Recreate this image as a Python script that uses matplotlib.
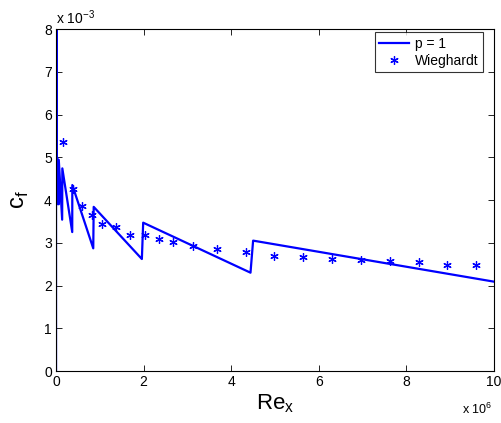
import matplotlib
matplotlib.use("Agg")
import matplotlib.pyplot as plt

plt.rcParams['font.family'] = ['Liberation Sans', 'DejaVu Sans']

# p = 1 line (Re_x in units of 1e6, cf in units of 1e-3)
re_line = [0.0, 0.0, 0.02, 0.025, 0.06, 0.063, 0.14, 0.144, 0.37, 0.372,
           0.85, 0.86, 1.96, 1.99, 4.44, 4.50, 10.0]
cf_line = [0.0, 50.0, 3.9, 5.0, 3.9, 4.94, 3.54, 4.74, 3.25, 4.35,
           2.87, 3.84, 2.62, 3.47, 2.30, 3.05, 2.09]

# Wieghardt data
re_w = [0.167, 0.38, 0.594, 0.83, 1.05, 1.37, 1.70, 2.03, 2.36, 2.68, 3.12,
        3.68, 4.33, 4.98, 5.65, 6.30, 6.96, 7.63, 8.28, 8.93, 9.60]
cf_w = [5.35, 4.26, 3.87, 3.65, 3.45, 3.38, 3.18, 3.18, 3.09, 3.02, 2.93,
        2.85, 2.79, 2.70, 2.67, 2.61, 2.60, 2.57, 2.54, 2.48, 2.48]

xticks = [0, 2, 4, 6, 8, 10]
yticks = [0, 1, 2, 3, 4, 5, 6, 7, 8]

fig = plt.figure(figsize=(5.02, 4.23), dpi=100)
ax = fig.add_axes([0.1116, 0.1229, 0.8725, 0.8085])

ax.plot(re_line, cf_line, color='#0000ff', linewidth=1.6, label='p = 1')
ax.plot(re_w, cf_w, linestyle='none', marker=(6, 2, 0), markersize=6,
        markeredgewidth=0.9, color='#0000ff', label='Wieghardt')

ax.set_xlim(0, 10)
ax.set_ylim(0, 8)
ax.set_xticks(xticks)
ax.set_yticks(yticks)
ax.set_xticklabels([str(t) for t in xticks])
ax.set_yticklabels([str(t) for t in yticks])
ax.tick_params(direction='in', top=True, right=True, length=4, width=0.6,
               labelsize=10, pad=3)
for s in ax.spines.values():
    s.set_linewidth(0.8)

ax.set_xlabel(r'Re$_\mathregular{x}$', fontsize=16, labelpad=2)
ax.set_ylabel(r'c$_\mathregular{f}$', fontsize=17, labelpad=9)

ax.text(0.0, 1.005, r'x 10$^{\mathregular{-3}}$', transform=ax.transAxes,
        fontsize=10, ha='left', va='bottom')
ax.text(0.995, -0.09, r'x 10$^{\mathregular{6}}$', transform=ax.transAxes,
        fontsize=9, ha='right', va='top')

leg = ax.legend(loc='upper right', bbox_to_anchor=(0.974, 0.99), fontsize=10,
                frameon=True, fancybox=False, edgecolor='black',
                borderpad=0.3, handlelength=2.2, handletextpad=0.4,
                labelspacing=0.25, borderaxespad=0.0)
leg.get_frame().set_linewidth(0.8)

fig.savefig('out.png', dpi=100)
